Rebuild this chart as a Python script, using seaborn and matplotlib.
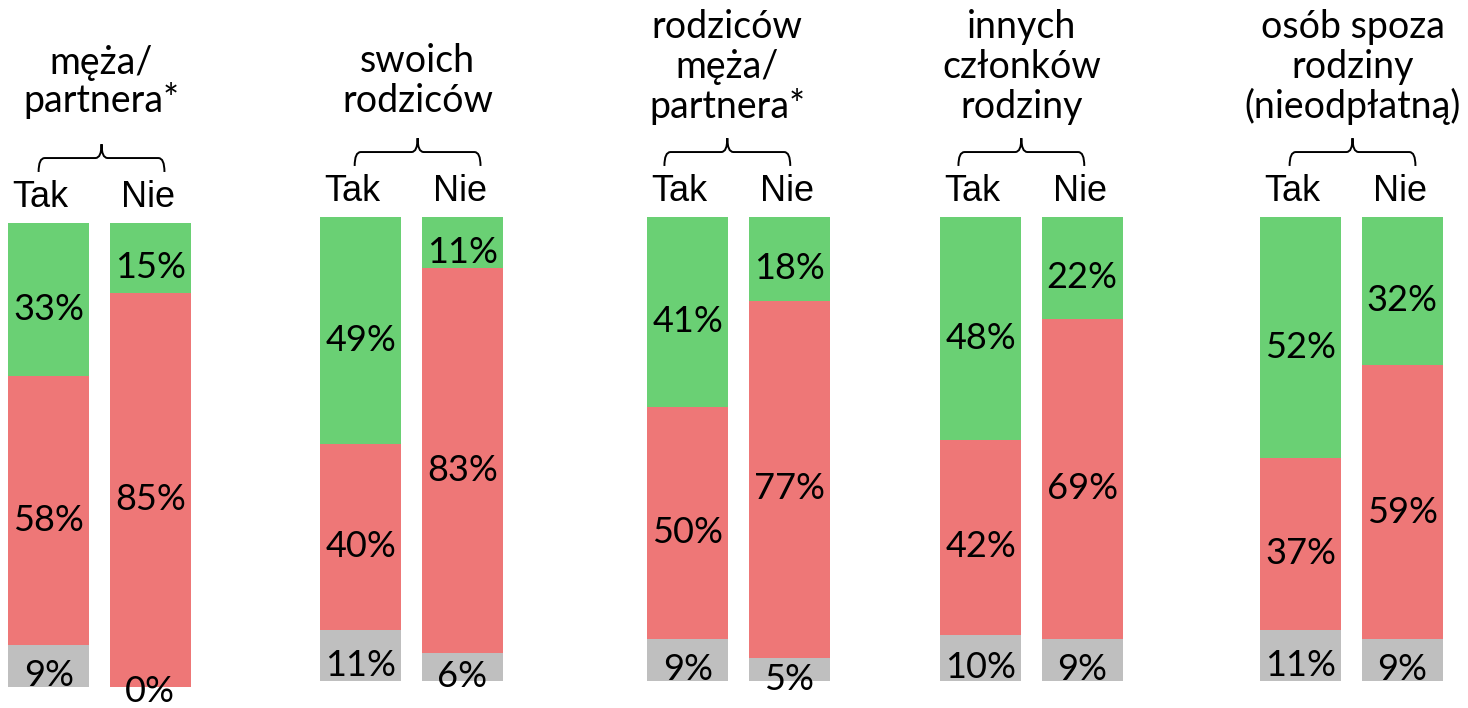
import matplotlib
matplotlib.use("Agg")
import matplotlib.pyplot as plt
import seaborn as sns
import pandas as pd
from matplotlib.path import Path
from matplotlib.patches import PathPatch

# Dane: odsetki dla odpowiedzi "Tak" / "Nie" w każdej grupie
titles = ["męża/\npartnera*", "swoich\nrodziców", "rodziców\nmęża/\npartnera*",
          "innych\nczłonków\nrodziny", "osób spoza\nrodziny\n(nieodpłatną)"]
answers = ["Tak", "Nie"]
green_vals = [[33, 15], [49, 11], [41, 18], [48, 22], [52, 32]]
red_vals = [[58, 85], [40, 83], [50, 77], [42, 69], [37, 59]]
gray_vals = [[9, 0], [11, 6], [9, 5], [10, 9], [11, 9]]

GREEN = "#6AD074"
RED = "#EE7777"
GRAY = "#BFBFBF"

sns.set_theme(style="white")
plt.rcParams["font.family"] = ["Lato", "DejaVu Sans"]

W, H = 1468, 708
fig = plt.figure(figsize=(W / 100, H / 100), dpi=100)

# układ (piksele): lewa krawędź osi, góra i dół słupków, środek klamry
ax_left = [-2, 310, 637, 930, 1250]
bar_top = [223, 217, 217, 217, 217]
bar_bottom = [687, 681, 681, 681, 681]
brace_mid = [0.52, 0.56, 0.39, 0.40, 0.51]
title_base = [124.0, 122.6, 121.3, 121.3, 121.3]
title_step = [8.2, 8.6, 8.6, 8.6, 8.6]
unit_px = 101.5


def brace(ax, c, half=0.62):
    l, r = c - half, c + half
    verts = [(l, 111), (l, 114), (l + 0.06, 114), (c - 0.06, 114), (c, 114), (c, 117),
             (c, 114), (c + 0.06, 114), (r - 0.06, 114), (r, 114), (r, 111)]
    codes = [Path.MOVETO, Path.CURVE3, Path.CURVE3, Path.LINETO, Path.CURVE3, Path.CURVE3,
             Path.CURVE3, Path.CURVE3, Path.LINETO, Path.CURVE3, Path.CURVE3]
    ax.add_patch(PathPatch(Path(verts, codes), fill=False, lw=1.4, color="black",
                           clip_on=False, transform=ax.transData))


for i, title in enumerate(titles):
    h = bar_bottom[i] - bar_top[i]
    ax = fig.add_axes([ax_left[i] / W, (H - bar_bottom[i]) / H, 2 * unit_px / W, h / H])

    df = pd.DataFrame({
        "answer": answers,
        "green": green_vals[i],
        "red": red_vals[i],
        "gray": gray_vals[i],
    })
    df["top"] = df["green"] + df["red"] + df["gray"]
    df["mid"] = df["red"] + df["gray"]

    # nakładane słupki (pełna wysokość -> czerwony+szary -> szary)
    sns.barplot(data=df, x="answer", y="top", color=GREEN, saturation=1, width=0.8, ax=ax)
    sns.barplot(data=df, x="answer", y="mid", color=RED, saturation=1, width=0.8, ax=ax)
    sns.barplot(data=df, x="answer", y="gray", color=GRAY, saturation=1, width=0.8, ax=ax)
    for p in ax.patches:
        p.set_linewidth(0)

    ax.set_xlim(-0.5, 1.5)
    ax.set_ylim(0, 100)
    ax.axis("off")

    # etykiety procentowe
    for j in range(len(answers)):
        g, r, k = df.loc[j, "green"], df.loc[j, "red"], df.loc[j, "gray"]
        for val, ymid in [(k, k / 2), (r, k + r / 2), (g, k + r + g / 2)]:
            dy = -7 if val > 0 else -3.5
            ax.annotate(f"{val}%", (j, ymid), xytext=(0, dy), textcoords="offset points",
                        ha="center", va="center", fontsize=26, color="black",
                        annotation_clip=False)

    # Tak / Nie
    for j, a in enumerate(answers):
        ax.text(j - 0.08 if j == 0 else j - 0.02, 103.4, a, ha="center", va="baseline",
                fontsize=26, family=["Liberation Sans", "DejaVu Sans"], color="black")

    brace(ax, brace_mid[i])

    # tytuł, linia po linii
    lines = title.split("\n")
    for n, line in enumerate(reversed(lines)):
        ax.text(brace_mid[i], title_base[i] + n * title_step[i], line, ha="center",
                va="baseline", fontsize=27, color="black")

fig.savefig("out.png", dpi=100, facecolor="white")
